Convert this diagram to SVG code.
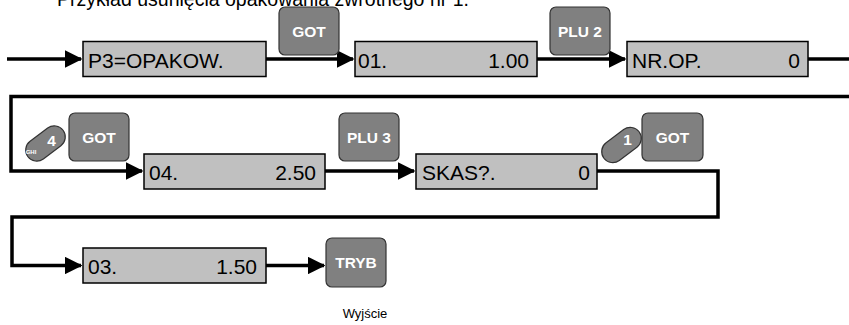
<svg xmlns="http://www.w3.org/2000/svg" width="849" height="325" viewBox="0 0 849 325">
<defs>
<style>
.box{fill:#c0c0c0;stroke:#000;stroke-width:1.5}
.btn{fill:#808080;stroke:#333;stroke-width:1.2}
.bt{font-family:"Liberation Sans",Arial,sans-serif;font-weight:bold;font-size:15.5px;fill:#fff;text-anchor:middle}
.dt{font-family:"Liberation Sans",Arial,sans-serif;font-size:21px;fill:#000}
.r{text-anchor:end}
.ln{fill:none;stroke:#000;stroke-width:3.5;stroke-linejoin:miter}
.lbl{font-family:"Liberation Sans",Arial,sans-serif;font-size:13px;fill:#000;text-anchor:middle}
</style>
<marker id="ah" markerWidth="5" markerHeight="5" refX="4.6" refY="2.5" orient="auto" markerUnits="strokeWidth">
<path d="M0,0 L5,2.5 L0,5 z" fill="#000"/>
</marker>
</defs>
<rect width="849" height="325" fill="#fff"/>
<text x="57" y="6" font-family="Liberation Sans,Arial,sans-serif" font-size="19.5" fill="#000">Przykład usunięcia opakowania zwrotnego nr 1.</text>

<g id="connectors">
<path class="ln" d="M7,59 H81" marker-end="url(#ah)"/>
<path class="ln" d="M266,59 H353" marker-end="url(#ah)"/>
<path class="ln" d="M537,59 H625" marker-end="url(#ah)"/>
<path class="ln" d="M808,59 H849"/>
<path class="ln" d="M849,96.5 H11 V171 H142" marker-end="url(#ah)"/>
<path class="ln" d="M325,171 H414" marker-end="url(#ah)"/>
<path class="ln" d="M597,171 H718 V217 H12 V265.5 H81" marker-end="url(#ah)"/>
<path class="ln" d="M266,265.5 H324" marker-end="url(#ah)"/>
</g>

<g id="n-p3">
<rect class="box" x="83" y="41.5" width="183" height="35"/>
<text class="dt" x="88" y="68">P3=OPAKOW.</text>
</g>
<g id="b-got1">
<rect class="btn" x="279" y="7" width="60" height="48" rx="6"/>
<text class="bt" x="309" y="37">GOT</text>
</g>
<g id="n-01">
<rect class="box" x="355" y="41.5" width="182" height="35"/>
<text class="dt" x="358" y="68">01.</text>
<text class="dt r" x="529" y="68">1.00</text>
</g>
<g id="b-plu2">
<rect class="btn" x="550" y="7" width="60" height="48" rx="6"/>
<text class="bt" x="580" y="37">PLU 2</text>
</g>
<g id="n-nrop">
<rect class="box" x="627" y="41.5" width="181" height="35"/>
<text class="dt" x="632" y="68">NR.OP.</text>
<text class="dt r" x="800" y="68">0</text>
</g>

<g id="k-4">
<rect class="btn" x="23.5" y="132.5" width="44" height="22" rx="11" transform="rotate(-37 45.5 143.5)" stroke="#222"/>
<text class="bt" x="51.5" y="146" font-size="16px">4</text>
<text x="31" y="154" font-family="Liberation Sans,Arial,sans-serif" font-weight="bold" font-size="6px" fill="#fff" text-anchor="middle">GHI</text>
</g>
<g id="b-got2">
<rect class="btn" x="69" y="113" width="60" height="48" rx="6"/>
<text class="bt" x="99" y="143">GOT</text>
</g>
<g id="n-04">
<rect class="box" x="144" y="154" width="181" height="35"/>
<text class="dt" x="149" y="180">04.</text>
<text class="dt r" x="316" y="180">2.50</text>
</g>
<g id="b-plu3">
<rect class="btn" x="339" y="113" width="60" height="48" rx="6"/>
<text class="bt" x="369" y="143">PLU 3</text>
</g>
<g id="n-skas">
<rect class="box" x="416" y="154" width="181" height="35"/>
<text class="dt" x="422" y="180">SKAS?.</text>
<text class="dt r" x="590" y="180">0</text>
</g>
<g id="k-1">
<rect class="btn" x="599.5" y="134" width="44" height="22" rx="11" transform="rotate(-37 621.5 145)" stroke="#222"/>
<text class="bt" x="627.5" y="145" font-size="16px">1</text>
</g>
<g id="b-got3">
<rect class="btn" x="642" y="113" width="61" height="48" rx="6"/>
<text class="bt" x="672.5" y="143">GOT</text>
</g>

<g id="n-03">
<rect class="box" x="83" y="248" width="183" height="35"/>
<text class="dt" x="88" y="274">03.</text>
<text class="dt r" x="257" y="274">1.50</text>
</g>
<g id="b-tryb">
<rect class="btn" x="326" y="238" width="60" height="49" rx="6"/>
<text class="bt" x="356" y="268">TRYB</text>
</g>
<text class="lbl" x="365" y="318">Wyjście</text>
</svg>
